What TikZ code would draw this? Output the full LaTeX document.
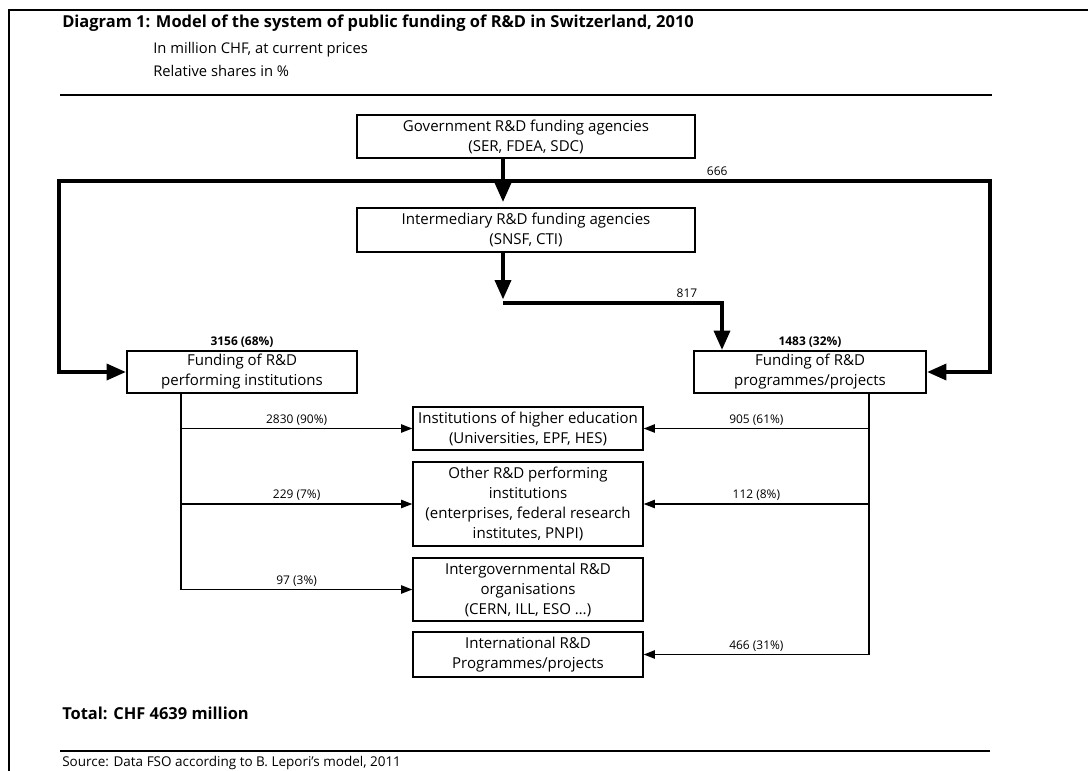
\documentclass[tikz,border=0pt]{standalone}
\usepackage{fontspec}
\setmainfont{Open Sans}
\usetikzlibrary{arrows.meta, positioning}

\tikzset{
  box/.style={draw, line width=1pt, align=center, inner sep=2pt,
    font=\fontsize{10.7}{14.2}\selectfont},
  fat/.style={line width=3.4pt, -{Triangle[length=14pt,width=11pt]}},
  flow/.style={line width=0.9pt, -{Triangle[length=8pt,width=6pt]}},
  lbl/.style={font=\fontsize{8.5}{10}\selectfont, inner sep=2pt},
  share/.style={font=\bfseries\fontsize{8.5}{10}\selectfont, inner sep=2pt},
  hdr/.style={anchor=base west, inner sep=0pt, font=\fontsize{10.5}{12}\selectfont},
  hdrbold/.style={hdr, font=\bfseries\fontsize{11.7}{14}\selectfont},
}

\begin{document}
\begin{tikzpicture}[x=0.025cm, y=-0.025cm]
\useasboundingbox (0,0) rectangle (1088,771);
% frame and heading
\draw[line width=1.8pt] (9,771) -- (9,10) -- (1088,10);
\node[hdrbold] (title) at (62,27)
  {Diagram 1: Model of the system of public funding of R\&D in Switzerland, 2010};
\node[hdr] (unit) at (153,53) {In million CHF, at current prices};
\node[hdr] (shares) at (153,76) {Relative shares in \%};
\draw[line width=1pt] (60,95) -- (992,95);

% funding agencies
\node[box, minimum width=8.45cm, minimum height=1.075cm] (gov) at (526,136.5)
  {Government R\&D funding agencies\\(SER, FDEA, SDC)};
\node[box, minimum width=8.45cm, minimum height=1.1cm] (inter) at (526,230)
  {Intermediary R\&D funding agencies\\(SNSF, CTI)};

% funding types
\node[box, minimum width=5.75cm, minimum height=1.05cm] (perf) at (242,372)
  {Funding of R\&D\\performing institutions};
\node[box, minimum width=5.8cm, minimum height=1.05cm] (prog) at (810,372)
  {Funding of R\&D\\programmes/projects};
\node[share, above=0pt of perf] (perfshare) {3156 (68\%)};
\node[share, above=0pt of prog] (progshare) {1483 (32\%)};

% performers
\node[box, minimum width=5.75cm, minimum height=1.075cm] (hei) at (528,428.5)
  {Institutions of higher education\\(Universities, EPF, HES)};
\node[box, minimum width=5.75cm, minimum height=2.1cm] (other) at (528,504)
  {Other R\&D performing\\institutions\\(enterprises, federal research\\institutes, PNPI)};
\node[box, minimum width=5.75cm, minimum height=1.575cm] (igo) at (528,589.5)
  {Intergovernmental R\&D\\organisations\\(CERN, ILL, ESO \ldots)};
\node[box, minimum width=5.75cm, minimum height=1.125cm] (intl) at (528,654.5)
  {International R\&D\\Programmes/projects};

% bends of the connectors
\coordinate (spine) at (503,0);
\coordinate (drop) at (722,0);
\coordinate (ltrunk) at (181,0);
\coordinate (rtrunk) at (869,0);
\coordinate (lbend) at (59,181);
\coordinate (rbend) at (990,181);
\coordinate (turn) at (503,303);

% thick flows
\draw[fat, shorten >=3.5pt] (gov.south -| spine) -- (inter.north -| spine);
\draw[fat, {Triangle[length=14pt,width=11pt]}-{Triangle[length=14pt,width=11pt]}]
  (perf.west) -| (lbend) -- node[lbl, pos=0.707, above] {666} (rbend) |- (prog.east);
\draw[fat, shorten >=2.3pt] (inter.south -| spine) -- (turn);
\draw[fat] (turn) -| node[lbl, pos=0.42, above] {817} (prog.north -| drop);

% thin flows
\draw[flow] (perf.south -| ltrunk) |- node[lbl, pos=0.75, above] {97 (3\%)} (igo.west);
\foreach \dest/\amount in {hei/{2830 (90\%)}, other/{229 (7\%)}}
  \draw[flow] (ltrunk |- \dest.west) -- node[lbl, above] {\amount} (\dest.west);
\draw[flow] (prog.south -| rtrunk) |- node[lbl, pos=0.75, above] {466 (31\%)} (intl.east);
\foreach \dest/\amount in {hei/{905 (61\%)}, other/{112 (8\%)}}
  \draw[flow] (rtrunk |- \dest.east) -- node[lbl, above] {\amount} (\dest.east);

% footer
\node[hdrbold] (total) at (62,719) {Total: CHF 4639 million};
\draw[line width=1pt] (60,751) -- (990,751);
\node[hdr, font=\fontsize{9.6}{11}\selectfont] (source) at (62,766)
  {Source: Data FSO according to B. Lepori's model, 2011};
\end{tikzpicture}
\end{document}
